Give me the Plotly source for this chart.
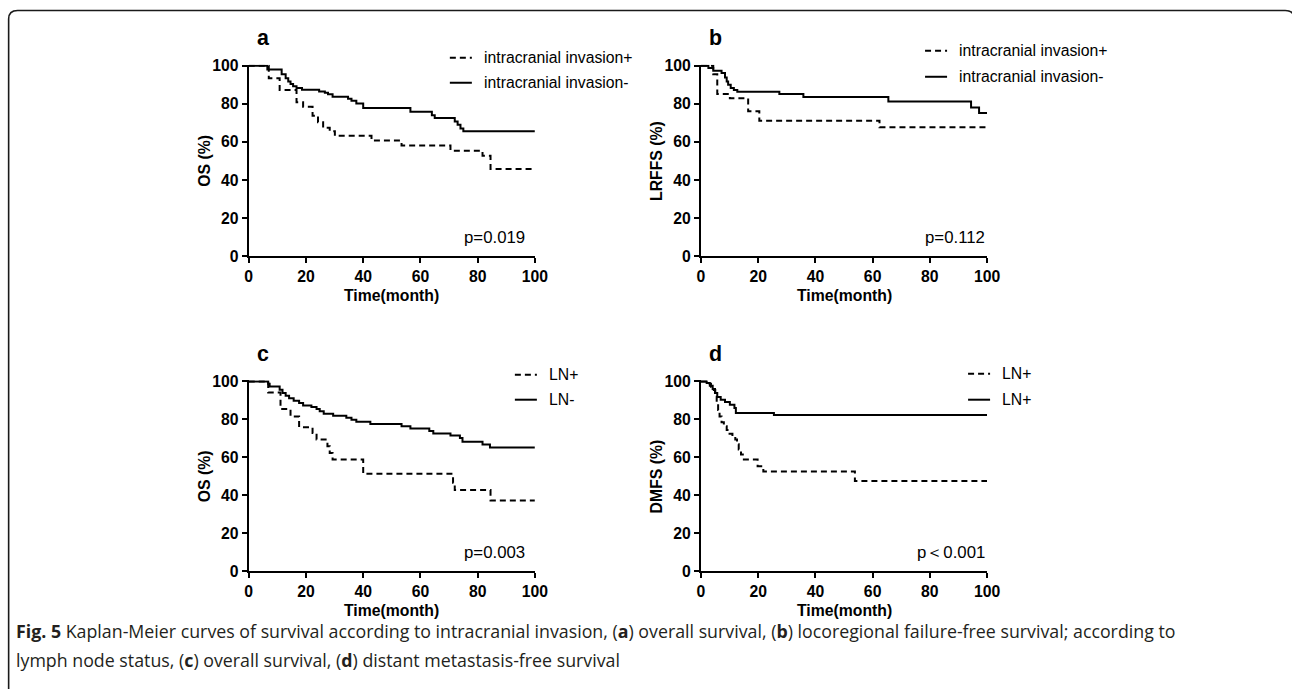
import plotly.graph_objects as go

W, H = 1292, 689

# ---------------- data ----------------
# Panel a: OS by intracranial invasion
a_pos_t = [0, 7.0, 10.8, 16.7, 19.0, 22.3, 24.2, 26.0, 28.3, 30.1, 42.9, 53.4, 70.5, 81.7, 84.5, 100]
a_pos_s = [100, 93.5, 87.3, 80.8, 78.5, 73.8, 70.3, 67.4, 65.6, 63.2, 60.7, 58.2, 55.4, 52.8, 45.8, 45.8]
a_neg_t = [0, 6.5, 11.5, 12.9, 13.8, 14.6, 15.5, 16.7, 18.6, 24.6, 26.6, 27.7, 29.3, 34.7, 35.9, 37.6, 40.0,
           56.5, 64.0, 65.0, 72.0, 73.0, 74.0, 75.0, 100]
a_neg_s = [100, 98, 95.6, 93.5, 91.8, 90.4, 89.3, 88.3, 87.4, 86.5, 85.8, 85.0, 83.7, 82.7, 81.6, 80.2, 77.8,
           75.9, 74.0, 72.6, 70.8, 69.0, 67.1, 65.6, 65.6]

# Panel b: LRFFS by intracranial invasion
b_pos_t = [0, 4.3, 5.7, 10.1, 16.5, 20.4, 62.4, 100]
b_pos_s = [100, 95.6, 85.2, 82.9, 76.1, 71.2, 67.7, 67.7]
b_neg_t = [0, 2.6, 4.3, 7.2, 8.4, 9.0, 9.5, 10.4, 11.5, 12.7, 27.4, 35.8, 65.5, 94.4, 97.2, 100]
b_neg_s = [100, 98.8, 97.4, 96.2, 93.9, 91.8, 90.1, 88.3, 87.3, 86.4, 85.2, 83.6, 81.3, 78.1, 75.2, 75.2]

# Panel c: OS by lymph node status
c_pos_t = [0, 6.8, 11.1, 14.6, 17.6, 22.3, 23.7, 27.5, 28.3, 29.3, 40.0, 71.4, 72.0, 84.5, 100]
c_pos_s = [100, 94.2, 85.5, 81.6, 75.9, 72.9, 69.4, 65.9, 62.4, 58.9, 51.4, 46.7, 42.8, 37.4, 37.4]
c_neg_t = [0, 6.8, 7.3, 10.8, 11.8, 12.9, 14.1, 15.7, 17.6, 19.0, 21.9, 23.7, 24.8, 26.2, 29.5, 34.1, 35.9,
           37.6, 42.5, 53.4, 56.5, 63.1, 64.5, 70.5, 73.8, 74.7, 81.7, 84.3, 100]
c_neg_s = [100, 98.8, 97.4, 95.6, 93.9, 92.5, 91.1, 89.9, 88.6, 87.4, 86.5, 85.5, 84.3, 83.0, 82.0, 80.9, 79.9,
           78.8, 77.6, 76.4, 75.2, 73.9, 72.6, 71.5, 70.3, 68.2, 66.8, 65.2, 65.2]

# Panel d: DMFS by lymph node status
d_pos_t = [0, 2.5, 3.5, 4.5, 5.0, 5.5, 6.0, 6.5, 7.2, 8.0, 9.0, 10.0, 11.0, 12.0, 12.6, 13.2, 14.0, 15.0,
           19.8, 21.8, 53.8, 100]
d_pos_s = [100, 98.8, 97.2, 95.5, 92.0, 88.5, 85.0, 81.5, 78.5, 76.4, 74.5, 72.5, 71.0, 69.5, 67.0, 64.2,
           61.5, 58.9, 55.4, 52.6, 47.6, 47.6]
d_neg_t = [0, 2.0, 3.1, 4.1, 4.9, 5.7, 6.9, 8.4, 10.1, 11.7, 12.2, 25.5, 100]
d_neg_s = [100, 99.2, 97.7, 96.0, 93.9, 91.8, 90.4, 89.2, 87.8, 86.0, 83.4, 82.3, 82.3]

x_ticks = [0, 20, 40, 60, 80, 100]
y_ticks = [0, 20, 40, 60, 80, 100]

panel_letters = ["a", "b", "c", "d"]
y_titles = ["OS (%)", "LRFFS (%)", "OS (%)", "DMFS (%)"]
x_title = "Time(month)"
legend_pos = [["intracranial invasion+", "intracranial invasion-"],
              ["intracranial invasion+", "intracranial invasion-"],
              ["LN+", "LN-"],
              ["LN+", "LN+"]]
p_values = ["p=0.019", "p=0.112", "p=0.003", "p\uff1c0.001"]

caption_1 = ("<b>Fig. 5</b> Kaplan-Meier curves of survival according to intracranial invasion, (<b>a</b>) overall "
             "survival, (<b>b</b>) locoregional failure-free survival; according to")
caption_2 = "lymph node status, (<b>c</b>) overall survival, (<b>d</b>) distant metastasis-free survival"

series = [(a_pos_t, a_pos_s, a_neg_t, a_neg_s),
          (b_pos_t, b_pos_s, b_neg_t, b_neg_s),
          (c_pos_t, c_pos_s, c_neg_t, c_neg_s),
          (d_pos_t, d_pos_s, d_neg_t, d_neg_s)]

# ---------------- layout geometry (target screen pixels) ----------------
geo = [dict(x0=249, x1=535, y0=256.0, y100=65.0),
       dict(x0=701, x1=987, y0=256.0, y100=65.0),
       dict(x0=249, x1=535, y0=572.3, y100=381.7),
       dict(x0=701, x1=987, y0=572.3, y100=381.7)]
legend_geo = [dict(lx=450, tx=482, y1=57, y2=82),
              dict(lx=925, tx=957, y1=50, y2=76),
              dict(lx=515, tx=547, y1=375, y2=400),
              dict(lx=968, tx=1000, y1=374, y2=400)]

YTOP = 100.6

# measured photo transform: screen = off + scale * figure px
SX, OX = 0.9864, 4.36
SY, OY = 0.980, 6.0
FS = 1 / 0.983  # font compensation


def PX(x):
    return ((x - OX) / SX) / W


def PY(y):
    return 1 - ((y - OY) / SY) / H


def fs(s):
    return round(s * FS, 2)


FONT = "Liberation Sans, Arial"
TICKFONT = dict(family=FONT, size=fs(15.5), color="black", weight="bold")
DASH = "6px,4px"

fig = go.Figure()
annotations = []
shapes = []
layout = {}

for i, g in enumerate(geo):
    sfx = "" if i == 0 else str(i + 1)
    xa, ya = "x" + sfx, "y" + sfx
    unit = (g["y0"] - g["y100"]) / 100.0
    ytop_px = g["y0"] - unit * YTOP
    layout["xaxis" + sfx] = dict(
        domain=[PX(g["x0"]), PX(g["x1"])], range=[0, 100], anchor=ya,
        tickvals=x_ticks, ticks="outside", ticklen=5, tickwidth=2, tickcolor="black",
        showline=True, linewidth=2, linecolor="black", showgrid=False, zeroline=False,
        tickfont=TICKFONT, fixedrange=True)
    layout["yaxis" + sfx] = dict(
        domain=[PY(g["y0"]), PY(ytop_px)], range=[0, YTOP], anchor=xa,
        tickvals=y_ticks, ticks="outside", ticklen=5, tickwidth=2, tickcolor="black",
        showline=True, linewidth=2, linecolor="black", showgrid=False, zeroline=False,
        tickfont=TICKFONT, fixedrange=True)

    pt, ps, nt, ns = series[i]
    fig.add_trace(go.Scatter(x=pt, y=ps, mode="lines", line=dict(shape="hv", color="black", width=2, dash=DASH),
                             xaxis=xa, yaxis=ya, showlegend=False, name=legend_pos[i][0], hoverinfo="skip"))
    fig.add_trace(go.Scatter(x=nt, y=ns, mode="lines", line=dict(shape="hv", color="black", width=2),
                             xaxis=xa, yaxis=ya, showlegend=False, name=legend_pos[i][1], hoverinfo="skip"))

    xc = (g["x0"] + g["x1"]) / 2
    # x axis title
    annotations.append(dict(x=PX(xc), y=PY(g["y0"] + 39), xref="paper", yref="paper",
                            text="<b>" + x_title + "</b>", showarrow=False, xanchor="center", yanchor="middle",
                            font=dict(family=FONT, size=fs(15.5), color="black")))
    # y axis title
    annotations.append(dict(x=PX(g["x0"] - 44), y=PY((g["y0"] + g["y100"]) / 2), xref="paper", yref="paper",
                            text="<b>" + y_titles[i] + "</b>", showarrow=False, textangle=-90,
                            xanchor="center", yanchor="middle",
                            font=dict(family=FONT, size=fs(15.5), color="black")))
    # panel letter
    annotations.append(dict(x=PX(g["x0"] + 6), y=PY(g["y100"] - 28), xref="paper", yref="paper",
                            text="<b>" + panel_letters[i] + "</b>", showarrow=False, xanchor="left",
                            yanchor="middle", font=dict(family=FONT, size=fs(21), color="black")))
    # p value
    annotations.append(dict(x=PX(g["x1"] - 8 if i in (0, 2) else g["x1"]), y=PY(g["y0"] - 19),
                            xref="paper", yref="paper", text=p_values[i], showarrow=False,
                            xanchor="right", yanchor="middle",
                            font=dict(family=FONT, size=fs(16.5), color="black")))
    # legend
    lg = legend_geo[i]
    for k, (yy, dash) in enumerate([(lg["y1"], DASH), (lg["y2"], "solid")]):
        shapes.append(dict(type="line", xref="paper", yref="paper",
                           x0=PX(lg["lx"]), x1=PX(lg["lx"] + 22), y0=PY(yy), y1=PY(yy),
                           line=dict(color="black", width=2, dash=dash)))
        annotations.append(dict(x=PX(lg["tx"]), y=PY(yy), xref="paper", yref="paper",
                                text=legend_pos[i][k], showarrow=False, xanchor="left", yanchor="middle",
                                font=dict(family=FONT, size=fs(15.5), color="black")))

# caption
for txt, yy in [(caption_1, 632), (caption_2, 661)]:
    annotations.append(dict(x=PX(14), y=PY(yy), xref="paper", yref="paper", text=txt, showarrow=False,
                            xanchor="left", yanchor="middle", align="left",
                            font=dict(family="Open Sans", size=fs(17.5), color="#231f20")))


# outer rounded frame (runs off the right and bottom edges as in the reference)
def P(x, y):
    return f"{PX(x):.5f},{PY(y):.5f}"


frame = (f"M{P(9, 700)} L{P(9, 18)} Q{P(9, 9.5)} {P(18, 9.5)} L{P(1285, 9.5)} "
         f"Q{P(1294, 9.5)} {P(1294, 18)} L{P(1294, 700)}")
shapes.append(dict(type="path", xref="paper", yref="paper", path=frame,
                   line=dict(color="#1a1a1a", width=1.6)))

fig.update_layout(width=W, height=H, margin=dict(l=0, r=0, t=0, b=0),
                  paper_bgcolor="white", plot_bgcolor="white", hovermode=False,
                  annotations=annotations, shapes=shapes, showlegend=False, **layout)

fig.write_html("out.html", config={"displayModeBar": False, "staticPlot": True},
               post_script="document.body.style.margin='0';"
                           "document.documentElement.style.overflow='hidden';")
